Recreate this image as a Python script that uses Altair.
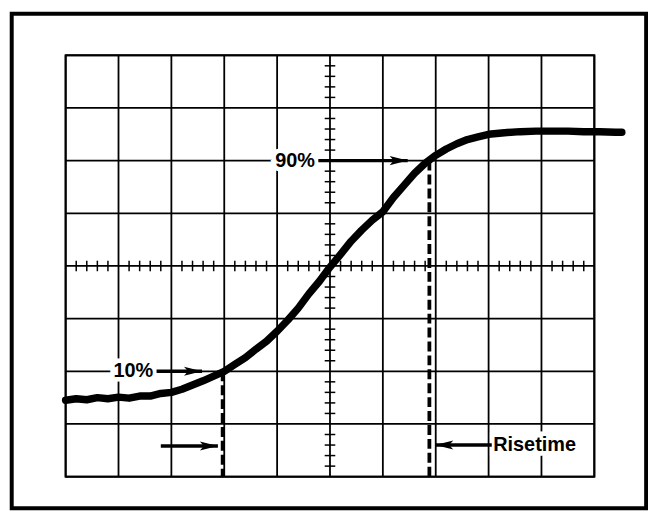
import altair as alt
import pandas as pd

# ---- oscilloscope trace, in graticule divisions ----
trace_x = [-5.0, -4.8, -4.6, -4.4, -4.2, -4.0, -3.8, -3.6, -3.4, -3.2,
           -3.0, -2.8, -2.6, -2.4, -2.2, -2.0, -1.8, -1.6, -1.4, -1.2,
           -1.0, -0.8, -0.6, -0.4, -0.2, 0.0, 0.2, 0.4, 0.6, 0.8,
           1.0, 1.2, 1.4, 1.6, 1.8, 2.0, 2.2, 2.4, 2.6, 2.8,
           3.0, 3.3, 3.6, 3.9, 4.2, 4.5, 4.8, 5.1, 5.4, 5.52]
trace_y = [-2.55, -2.52, -2.54, -2.50, -2.52, -2.49, -2.51, -2.47, -2.47, -2.42,
           -2.40, -2.34, -2.26, -2.18, -2.09, -2.00, -1.87, -1.74, -1.58, -1.43,
           -1.24, -1.03, -0.80, -0.53, -0.29, -0.02, 0.22, 0.47, 0.68, 0.87,
           1.03, 1.30, 1.53, 1.76, 1.95, 2.10, 2.22, 2.32, 2.40, 2.45,
           2.50, 2.53, 2.55, 2.56, 2.56, 2.56, 2.55, 2.55, 2.54, 2.54]

# graticule
grid_x = [-5, -4, -3, -2, -1, 0, 1, 2, 3, 4, 5]
grid_y = [-4, -3, -2, -1, 0, 1, 2, 3, 4]
minor_x = [i / 5 for i in range(-24, 25) if i % 5 != 0]
minor_y = [i / 5 for i in range(-19, 20) if i % 5 != 0]
TICK_HALF = 0.1

# outer frame (divisions)
frame = pd.DataFrame({"x": [-6.02], "x2": [5.98], "y": [-4.6], "y2": [4.79]})

# dashed cursor lines (10% and 90% crossings)
cursor_x = [-2.03, 1.88]
cursor_top = [-2.0, 2.0]
cursor_bottom = [-4.0, -4.0]

# labels
label_text = ["90%", "10%", "Risetime"]
label_x = [-0.66, -3.72, 3.87]
label_y = [2.0, -2.0, -3.40]

# arrows: shaft start, tip, y, direction
arrow_x1 = [-0.22, -3.28, -3.20, 3.06]
arrow_tip = [1.47, -2.42, -2.12, 1.99]
arrow_y = [2.0, -2.0, -3.42, -3.40]
arrow_dir = ["right", "right", "right", "left"]

xs = alt.Scale(domain=[-5, 5], nice=False, zero=False)
ys = alt.Scale(domain=[-4, 4], nice=False, zero=False)

W, H = 532, 424

frame_layer = alt.Chart(frame).mark_rect(
    filled=False, stroke="black", strokeWidth=4
).encode(
    x=alt.X("x:Q", scale=xs, axis=None), x2="x2:Q",
    y=alt.Y("y:Q", scale=ys, axis=None), y2="y2:Q",
)

vgrid = alt.Chart(pd.DataFrame({"v": grid_x})).mark_rule(
    color="black", strokeWidth=1.8
).encode(x=alt.X("v:Q", scale=xs, axis=None))

hgrid = alt.Chart(pd.DataFrame({"v": grid_y})).mark_rule(
    color="black", strokeWidth=1.8
).encode(y=alt.Y("v:Q", scale=ys, axis=None))

mx = pd.DataFrame({"v": minor_x, "lo": -TICK_HALF, "hi": TICK_HALF})
minor_on_x = alt.Chart(mx).mark_rule(color="black", strokeWidth=1.5).encode(
    x=alt.X("v:Q", scale=xs, axis=None),
    y=alt.Y("lo:Q", scale=ys, axis=None), y2="hi:Q",
)
my = pd.DataFrame({"v": minor_y, "lo": -TICK_HALF, "hi": TICK_HALF})
minor_on_y = alt.Chart(my).mark_rule(color="black", strokeWidth=1.5).encode(
    y=alt.Y("v:Q", scale=ys, axis=None),
    x=alt.X("lo:Q", scale=xs, axis=None), x2="hi:Q",
)

cursors = alt.Chart(pd.DataFrame({
    "x": cursor_x, "y": cursor_top, "y2": cursor_bottom
})).mark_rule(color="black", strokeWidth=3.8, strokeDash=[10, 4]).encode(
    x=alt.X("x:Q", scale=xs, axis=None),
    y=alt.Y("y:Q", scale=ys, axis=None), y2="y2:Q",
)

trace = alt.Chart(pd.DataFrame({"x": trace_x, "y": trace_y})).mark_line(
    color="black", strokeWidth=7.5, strokeCap="round", strokeJoin="round"
).encode(
    x=alt.X("x:Q", scale=xs, axis=None),
    y=alt.Y("y:Q", scale=ys, axis=None),
    order="x:Q",
)

labels_df = pd.DataFrame({"t": label_text, "x": label_x, "y": label_y})
halo = alt.Chart(labels_df).mark_text(
    font="Liberation Sans", fontWeight="bold", fontSize=20,
    color="white", stroke="white", strokeWidth=9, baseline="middle", align="center"
).encode(
    x=alt.X("x:Q", scale=xs, axis=None),
    y=alt.Y("y:Q", scale=ys, axis=None), text="t:N",
)
labels = alt.Chart(labels_df).mark_text(
    font="Liberation Sans", fontWeight="bold", fontSize=20,
    color="black", baseline="middle", align="center"
).encode(
    x=alt.X("x:Q", scale=xs, axis=None),
    y=alt.Y("y:Q", scale=ys, axis=None), text="t:N",
)

arrows_df = pd.DataFrame({"x1": arrow_x1, "tip": arrow_tip, "y": arrow_y, "dir": arrow_dir})
shafts = alt.Chart(arrows_df).mark_rule(color="black", strokeWidth=3.5).encode(
    x=alt.X("x1:Q", scale=xs, axis=None), x2="tip:Q",
    y=alt.Y("y:Q", scale=ys, axis=None),
)
heads = alt.Chart(arrows_df).mark_point(
    filled=True, opacity=1, color="black", size=330
).encode(
    x=alt.X("tip:Q", scale=xs, axis=None),
    y=alt.Y("y:Q", scale=ys, axis=None),
    shape=alt.Shape("dir:N", scale=alt.Scale(
        domain=["right", "left"],
        range=["M0,0L-2,-0.5L-1.55,0L-2,0.5Z", "M0,0L2,-0.5L1.55,0L2,0.5Z"]),
        legend=None),
)

chart = alt.layer(
    frame_layer, vgrid, hgrid, minor_on_x, minor_on_y, cursors, trace,
    halo, labels, shafts, heads
).properties(
    width=W, height=H,
    padding={"left": 58, "top": 46, "right": 54, "bottom": 34},
    autosize=alt.AutoSizeParams(type="none"),
    background="white",
).configure_view(stroke="black", strokeWidth=2)

chart.save("out.html", embed_options={"renderer": "svg", "actions": False})
